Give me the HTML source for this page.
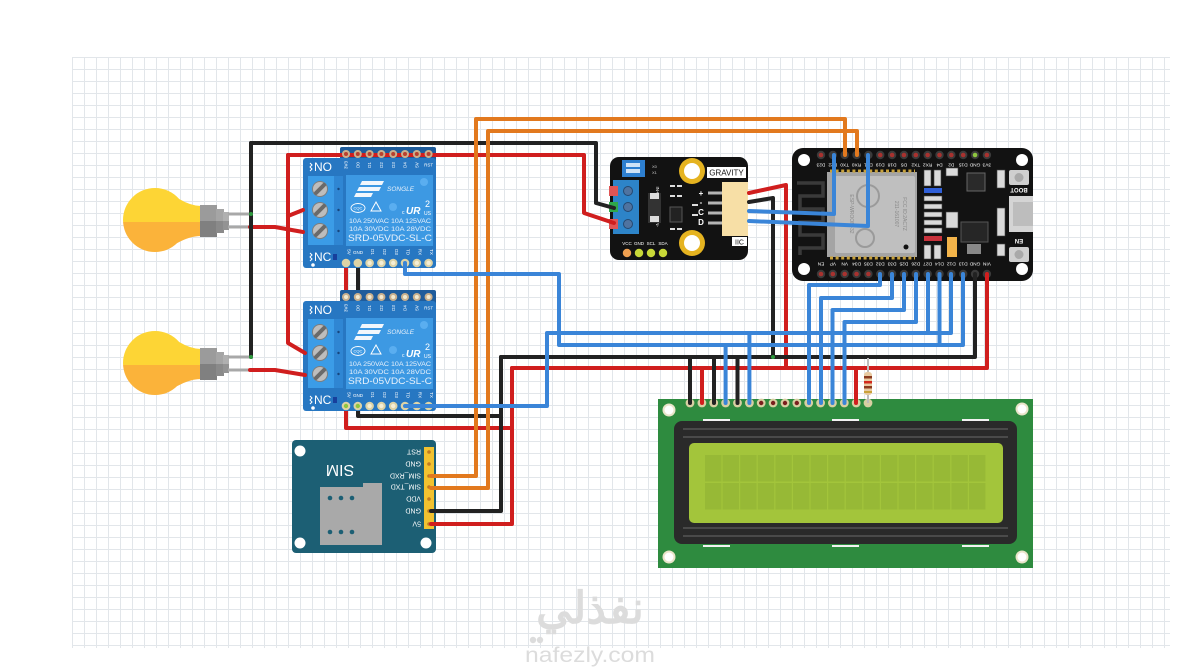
<!DOCTYPE html>
<html><head><meta charset="utf-8"><style>
html,body{margin:0;padding:0;background:#fff;}
svg{display:block;}
text{font-family:"Liberation Sans",sans-serif;}
</style></head><body>
<svg width="1179" height="668" viewBox="0 0 1179 668" xmlns="http://www.w3.org/2000/svg">
<defs>
<pattern id="grid" x="72" y="57" width="12" height="12" patternUnits="userSpaceOnUse">
<path d="M0.5 0 V12 M0 0.5 H12" stroke="#e2e6ea" stroke-width="1" fill="none"/>
</pattern>
<clipPath id="bulbclip"><circle cx="155" cy="220" r="32"/><path d="M168 191 Q186 206 201 206 L201 236 Q186 236 168 249 Z"/></clipPath>
</defs>
<rect width="1179" height="668" fill="#fff"/>
<rect x="72" y="57" width="1098" height="591" fill="url(#grid)"/>

<!-- watermark -->
<g fill="#dcdcdc">
<text x="590" y="623" text-anchor="middle" font-family="DejaVu Sans, sans-serif" font-weight="bold" font-size="44">نفذلي</text>
<circle cx="533" cy="640" r="3.2"/><circle cx="540" cy="640" r="3.2"/>
<text x="590" y="662" text-anchor="middle" font-size="21" textLength="130" lengthAdjust="spacingAndGlyphs">nafezly.com</text>
</g>

<!-- wires behind relay 2 -->
<g fill="none" stroke-width="4" stroke-linecap="round" stroke-linejoin="round">
<path d="M346 263 V428 H512 V368" stroke="#d01e1e"/>
<path d="M358 263 V416 H501 V357" stroke="#222"/>
</g>

<!-- bulbs -->
<g id="bulb1">
<g clip-path="url(#bulbclip)"><rect x="110" y="180" width="95" height="42" fill="#fdd535"/><rect x="110" y="222" width="95" height="42" fill="#fbb33a"/></g>
<rect x="200" y="205" width="17" height="16" fill="#9b9b9b"/><rect x="200" y="221" width="17" height="16" fill="#808080"/>
<rect x="216" y="209" width="8" height="12" fill="#a5a5a5"/><rect x="216" y="221" width="8" height="12" fill="#8a8a8a"/>
<rect x="223" y="212" width="6" height="9" fill="#b0b0b0"/><rect x="223" y="221" width="6" height="9" fill="#939393"/>
<line x1="228" y1="214" x2="251" y2="214" stroke="#a8a8a8" stroke-width="3"/>
<line x1="228" y1="227" x2="251" y2="227" stroke="#a8a8a8" stroke-width="3"/>
</g>
<g transform="translate(0,143)">
<g clip-path="url(#bulbclip)"><rect x="110" y="180" width="95" height="42" fill="#fdd535"/><rect x="110" y="222" width="95" height="42" fill="#fbb33a"/></g>
<rect x="200" y="205" width="17" height="16" fill="#9b9b9b"/><rect x="200" y="221" width="17" height="16" fill="#808080"/>
<rect x="216" y="209" width="8" height="12" fill="#a5a5a5"/><rect x="216" y="221" width="8" height="12" fill="#8a8a8a"/>
<rect x="223" y="212" width="6" height="9" fill="#b0b0b0"/><rect x="223" y="221" width="6" height="9" fill="#939393"/>
<line x1="228" y1="214" x2="251" y2="214" stroke="#a8a8a8" stroke-width="3"/>
<line x1="228" y1="227" x2="251" y2="227" stroke="#a8a8a8" stroke-width="3"/>
</g>

<!-- relay 1 -->
<g>
<rect x="340" y="147" width="96" height="15" rx="2" fill="#1f5c9b"/>
<rect x="303" y="158" width="133" height="110" rx="3" fill="#2777c2"/>
<rect x="308" y="176" width="26" height="69" fill="#3b9ce7"/>
<rect x="334" y="176" width="9" height="69" fill="#2f86d3"/>
<g fill="#17467d"><circle cx="338.5" cy="189" r="1.2"/><circle cx="338.5" cy="210" r="1.2"/><circle cx="338.5" cy="231" r="1.2"/></g>
<g stroke="#7d7d7d" fill="#bdbdbd"><circle cx="320" cy="189" r="7.5"/><circle cx="320" cy="210" r="7.5"/><circle cx="320" cy="231" r="7.5"/></g>
<g stroke="#6a6a6a" stroke-width="4" stroke-linecap="round"><line x1="316" y1="193" x2="324" y2="185"/><line x1="316" y1="214" x2="324" y2="206"/><line x1="316" y1="235" x2="324" y2="227"/></g>
<rect x="346" y="175" width="87" height="71" fill="#3d99e3"/>
<circle cx="424" cy="182" r="4" fill="#5aaef0"/><circle cx="393" cy="207" r="4" fill="#5aaef0"/>
<g fill="#f2f7fc"><polygon points="362,181 384,181 382,185 360,185"/><polygon points="359,187 381,187 379,191 357,191"/><polygon points="356,193 373,193 371,197 354,197"/></g>
<text x="387" y="191" font-size="6.5" font-style="italic" fill="#e8f1fb" font-family="Liberation Serif, serif">SONGLE</text>
<ellipse cx="358" cy="208" rx="7" ry="4.5" stroke="#fff" fill="none" stroke-width="0.9"/>
<text x="358" y="209.5" font-size="4" fill="#fff" text-anchor="middle">CQC</text>
<polygon points="376,202 381,211 371,211" stroke="#fff" fill="none" stroke-width="1"/>
<text x="402" y="214" font-size="5" fill="#fff">c</text>
<text x="406" y="214" font-size="10" font-weight="bold" font-style="italic" fill="#fff">UR</text>
<text x="424" y="215" font-size="5" fill="#fff">US</text>
<text x="425" y="207" font-size="9" fill="#fff">2</text>
<text x="349" y="223" font-size="6.6" fill="#e8f1fb" textLength="82" lengthAdjust="spacingAndGlyphs">10A  250VAC   10A  125VAC</text>
<text x="349" y="231" font-size="6.6" fill="#e8f1fb" textLength="82" lengthAdjust="spacingAndGlyphs">10A   30VDC   10A    28VDC</text>
<text x="348" y="241" font-size="9.5" fill="#e8f1fb" textLength="84" lengthAdjust="spacingAndGlyphs">SRD-05VDC-SL-C</text>
<path d="M310 163 l2 2 l-2 2 l2 2 l-2 2" stroke="#fff" fill="none" stroke-width="1"/>
<text x="314" y="171" font-size="12" fill="#fff">NO</text>
<path d="M310 253 l2 2 l-2 2 l2 2 l-2 2" stroke="#fff" fill="none" stroke-width="1"/>
<text x="314" y="261" font-size="12" fill="#fff">NC</text>
<rect x="333" y="254" width="4" height="6" fill="#173f9c"/>
<circle cx="313" cy="265" r="1.8" fill="#fff"/>
<g font-size="4.5" fill="#fff" text-anchor="middle">
<text transform="translate(347.6,165) rotate(-90)">3V3</text><text transform="translate(359.4,165) rotate(-90)">D0</text><text transform="translate(371.2,165) rotate(-90)">D1</text><text transform="translate(383,165) rotate(-90)">D2</text><text transform="translate(394.8,165) rotate(-90)">D3</text><text transform="translate(406.6,165) rotate(-90)">D4</text><text transform="translate(418.4,165) rotate(-90)">5V</text><text x="428.6" y="166.5">RST</text>
<text transform="translate(347.6,252) rotate(90)">5V</text><text x="358" y="254">GND</text><text transform="translate(371.2,252) rotate(90)">D1</text><text transform="translate(383,252) rotate(90)">D2</text><text transform="translate(394.8,252) rotate(90)">D3</text><text transform="translate(406.6,252) rotate(90)">TD</text><text transform="translate(418.4,252) rotate(90)">RX</text><text transform="translate(430.2,252) rotate(90)">TX</text>
</g>
<g fill="#ddd3a6"><circle cx="346" cy="263" r="4.3"/><circle cx="357.8" cy="263" r="4.3"/><circle cx="369.6" cy="263" r="4.3"/><circle cx="381.4" cy="263" r="4.3"/><circle cx="393.2" cy="263" r="4.3"/><circle cx="405" cy="263" r="4.3"/><circle cx="416.8" cy="263" r="4.3"/><circle cx="428.6" cy="263" r="4.3"/></g>
<g fill="#f5efd6"><circle cx="369.6" cy="263" r="2.2"/><circle cx="381.4" cy="263" r="2.2"/><circle cx="393.2" cy="263" r="2.2"/><circle cx="416.8" cy="263" r="2.2"/><circle cx="428.6" cy="263" r="2.2"/></g>
</g>

<!-- relay 2 -->
<g transform="translate(0,143)">
<rect x="340" y="147" width="96" height="15" rx="2" fill="#1f5c9b"/>
<rect x="303" y="158" width="133" height="110" rx="3" fill="#2777c2"/>
<rect x="308" y="176" width="26" height="69" fill="#3b9ce7"/>
<rect x="334" y="176" width="9" height="69" fill="#2f86d3"/>
<g fill="#17467d"><circle cx="338.5" cy="189" r="1.2"/><circle cx="338.5" cy="210" r="1.2"/><circle cx="338.5" cy="231" r="1.2"/></g>
<g stroke="#7d7d7d" fill="#bdbdbd"><circle cx="320" cy="189" r="7.5"/><circle cx="320" cy="210" r="7.5"/><circle cx="320" cy="231" r="7.5"/></g>
<g stroke="#6a6a6a" stroke-width="4" stroke-linecap="round"><line x1="316" y1="193" x2="324" y2="185"/><line x1="316" y1="214" x2="324" y2="206"/><line x1="316" y1="235" x2="324" y2="227"/></g>
<rect x="346" y="175" width="87" height="71" fill="#3d99e3"/>
<circle cx="424" cy="182" r="4" fill="#5aaef0"/><circle cx="393" cy="207" r="4" fill="#5aaef0"/>
<g fill="#f2f7fc"><polygon points="362,181 384,181 382,185 360,185"/><polygon points="359,187 381,187 379,191 357,191"/><polygon points="356,193 373,193 371,197 354,197"/></g>
<text x="387" y="191" font-size="6.5" font-style="italic" fill="#e8f1fb" font-family="Liberation Serif, serif">SONGLE</text>
<ellipse cx="358" cy="208" rx="7" ry="4.5" stroke="#fff" fill="none" stroke-width="0.9"/>
<text x="358" y="209.5" font-size="4" fill="#fff" text-anchor="middle">CQC</text>
<polygon points="376,202 381,211 371,211" stroke="#fff" fill="none" stroke-width="1"/>
<text x="402" y="214" font-size="5" fill="#fff">c</text>
<text x="406" y="214" font-size="10" font-weight="bold" font-style="italic" fill="#fff">UR</text>
<text x="424" y="215" font-size="5" fill="#fff">US</text>
<text x="425" y="207" font-size="9" fill="#fff">2</text>
<text x="349" y="223" font-size="6.6" fill="#e8f1fb" textLength="82" lengthAdjust="spacingAndGlyphs">10A  250VAC   10A  125VAC</text>
<text x="349" y="231" font-size="6.6" fill="#e8f1fb" textLength="82" lengthAdjust="spacingAndGlyphs">10A   30VDC   10A    28VDC</text>
<text x="348" y="241" font-size="9.5" fill="#e8f1fb" textLength="84" lengthAdjust="spacingAndGlyphs">SRD-05VDC-SL-C</text>
<path d="M310 163 l2 2 l-2 2 l2 2 l-2 2" stroke="#fff" fill="none" stroke-width="1"/>
<text x="314" y="171" font-size="12" fill="#fff">NO</text>
<path d="M310 253 l2 2 l-2 2 l2 2 l-2 2" stroke="#fff" fill="none" stroke-width="1"/>
<text x="314" y="261" font-size="12" fill="#fff">NC</text>
<rect x="333" y="254" width="4" height="6" fill="#173f9c"/>
<circle cx="313" cy="265" r="1.8" fill="#fff"/>
<g font-size="4.5" fill="#fff" text-anchor="middle">
<text transform="translate(347.6,165) rotate(-90)">3V3</text><text transform="translate(359.4,165) rotate(-90)">D0</text><text transform="translate(371.2,165) rotate(-90)">D1</text><text transform="translate(383,165) rotate(-90)">D2</text><text transform="translate(394.8,165) rotate(-90)">D3</text><text transform="translate(406.6,165) rotate(-90)">D4</text><text transform="translate(418.4,165) rotate(-90)">5V</text><text x="428.6" y="166.5">RST</text>
<text transform="translate(347.6,252) rotate(90)">5V</text><text x="358" y="254">GND</text><text transform="translate(371.2,252) rotate(90)">D1</text><text transform="translate(383,252) rotate(90)">D2</text><text transform="translate(394.8,252) rotate(90)">D3</text><text transform="translate(406.6,252) rotate(90)">TD</text><text transform="translate(418.4,252) rotate(90)">RX</text><text transform="translate(430.2,252) rotate(90)">TX</text>
</g>
<g fill="#c9b08e"><circle cx="346" cy="154" r="4"/><circle cx="357.8" cy="154" r="4"/><circle cx="369.6" cy="154" r="4"/><circle cx="381.4" cy="154" r="4"/><circle cx="393.2" cy="154" r="4"/><circle cx="405" cy="154" r="4"/><circle cx="416.8" cy="154" r="4"/><circle cx="428.6" cy="154" r="4"/></g>
<g fill="#f2ead0"><circle cx="346" cy="154" r="2"/><circle cx="357.8" cy="154" r="2"/><circle cx="369.6" cy="154" r="2"/><circle cx="381.4" cy="154" r="2"/><circle cx="393.2" cy="154" r="2"/><circle cx="405" cy="154" r="2"/><circle cx="416.8" cy="154" r="2"/><circle cx="428.6" cy="154" r="2"/></g>
<g fill="#ddd3a6"><circle cx="346" cy="263" r="4.3"/><circle cx="357.8" cy="263" r="4.3"/><circle cx="369.6" cy="263" r="4.3"/><circle cx="381.4" cy="263" r="4.3"/><circle cx="393.2" cy="263" r="4.3"/><circle cx="405" cy="263" r="4.3"/><circle cx="416.8" cy="263" r="4.3"/><circle cx="428.6" cy="263" r="4.3"/></g>
<g fill="#f5efd6"><circle cx="369.6" cy="263" r="2.2"/><circle cx="381.4" cy="263" r="2.2"/><circle cx="393.2" cy="263" r="2.2"/><circle cx="416.8" cy="263" r="2.2"/><circle cx="428.6" cy="263" r="2.2"/></g>
<g fill="#8ec63f"><circle cx="346" cy="263" r="2.2"/><circle cx="357.8" cy="263" r="2.2"/></g>
</g>

<!-- gravity module -->
<g>
<rect x="610" y="157" width="138" height="103" rx="9" fill="#121212"/>
<circle cx="692" cy="171" r="13" fill="#e5b320"/><circle cx="692" cy="171" r="8" fill="#fff"/>
<circle cx="692" cy="243" r="13" fill="#e5b320"/><circle cx="692" cy="243" r="8" fill="#fff"/>
<rect x="707" y="167" width="39" height="11" fill="#fff"/>
<text x="726.5" y="175.5" font-size="8" font-family="Liberation Mono, monospace" text-anchor="middle" fill="#111">GRAVITY</text>
<rect x="722" y="182" width="26" height="54" fill="#f7dfa6"/>
<g fill="#b5b5b5"><rect x="708" y="191.5" width="14" height="3"/><rect x="708" y="201.5" width="14" height="3"/><rect x="708" y="211.5" width="14" height="3"/><rect x="708" y="221.5" width="14" height="3"/></g>
<g fill="#fff" font-size="8" font-weight="bold" text-anchor="middle"><text x="701" y="196">+</text><text x="701" y="205">-</text><text x="701" y="215">C</text><text x="701" y="225">D</text></g>
<rect x="732" y="237" width="15" height="9" fill="#fff"/>
<text x="739.5" y="244.5" font-size="7" font-family="Liberation Mono, monospace" text-anchor="middle" fill="#111">IIC</text>
<rect x="613" y="180" width="26" height="54" fill="#2d84c8"/>
<rect x="609" y="186" width="9" height="10" fill="#e05555"/>
<rect x="609" y="202" width="9" height="10" fill="#2ea84a"/>
<rect x="609" y="219" width="9" height="10" fill="#e05555"/>
<g fill="#4f73a0" stroke="#26486f"><circle cx="628" cy="191" r="4.5"/><circle cx="628" cy="207" r="4.5"/><circle cx="628" cy="224" r="4.5"/></g>
<rect x="622" y="160" width="23" height="17" fill="#2d7fd0"/>
<rect x="626" y="163" width="14" height="4" fill="#cfe3f7"/><rect x="626" y="169" width="14" height="4" fill="#cfe3f7"/>
<g fill="#ccc" font-size="4"><text x="652" y="168">X0</text><text x="652" y="174">X1</text></g>
<g fill="#fff" font-size="4.5" text-anchor="middle"><text transform="translate(656,190) rotate(90)">IN+</text><text transform="translate(656,207) rotate(90)">OUT</text><text transform="translate(656,224) rotate(90)">IN-</text></g>
<rect x="648" y="193" width="13" height="30" fill="#333"/>
<rect x="650" y="193" width="9" height="6" fill="#ddd"/><rect x="650" y="216" width="9" height="6" fill="#ddd"/>
<rect x="670" y="207" width="12" height="15" fill="#222" stroke="#555"/>
<g fill="#ddd"><rect x="670" y="185" width="5" height="2"/><rect x="677" y="185" width="5" height="2"/><rect x="670" y="195" width="5" height="2"/><rect x="677" y="195" width="5" height="2"/><rect x="670" y="228" width="5" height="2"/><rect x="677" y="228" width="5" height="2"/><rect x="692" y="204" width="6" height="2"/><rect x="692" y="214" width="6" height="2"/></g>
<g fill="#fff" font-size="4.5" text-anchor="middle"><text x="627" y="245">VCC</text><text x="639" y="245">GND</text><text x="651" y="245">SCL</text><text x="663" y="245">SDA</text></g>
<circle cx="627" cy="253" r="4.2" fill="#f0a050"/><circle cx="639" cy="253" r="4.2" fill="#c8d838"/><circle cx="651" cy="253" r="4.2" fill="#c8d838"/><circle cx="663" cy="253" r="4.2" fill="#c8d838"/>
</g>

<!-- ESP32 -->
<g>
<rect x="792" y="148" width="241" height="133" rx="11" fill="#121212"/>
<g fill="#fff"><circle cx="804" cy="160" r="6"/><circle cx="804" cy="269" r="6"/><circle cx="1022" cy="160" r="6"/><circle cx="1022" cy="269" r="6"/></g>
<path d="M797 183 H823 V196 H800 V209 H823 V222 H800 V235 H823 V248 H800 V255" stroke="#3a3a3a" stroke-width="3.5" fill="none"/>
<rect x="827" y="172" width="90" height="85" fill="#a4a4a4"/>
<rect x="835" y="176" width="80" height="77" rx="2" fill="#bfbfbf"/>
<line x1="830" y1="171" x2="915" y2="171" stroke="#c9a23a" stroke-width="3" stroke-dasharray="3 2.6"/>
<line x1="830" y1="258" x2="915" y2="258" stroke="#c9a23a" stroke-width="3" stroke-dasharray="3 2.6"/>
<g fill="#8a8a8a" font-size="5" text-anchor="middle">
<text transform="translate(850,214) rotate(90)">ESP-WROOM-32</text>
<text transform="translate(895,214) rotate(90)">211-161007</text>
<text transform="translate(903,214) rotate(90)">FCC ID:2AC7Z</text>
</g>
<circle cx="868" cy="196" r="11" fill="none" stroke="#9a9a9a" stroke-width="2"/>
<circle cx="865" cy="238" r="9" fill="none" stroke="#9a9a9a" stroke-width="2"/>
<circle cx="906" cy="247" r="2.5" fill="#111"/>
<g fill="#dadada" stroke="#444" stroke-width="0.6">
<rect x="924" y="170" width="7" height="16"/><rect x="934" y="170" width="7" height="16"/>
<rect x="924" y="196" width="18" height="5"/><rect x="924" y="204" width="18" height="5"/><rect x="924" y="212" width="18" height="5"/><rect x="924" y="220" width="18" height="5"/><rect x="924" y="228" width="18" height="5"/>
<rect x="924" y="245" width="7" height="14"/><rect x="934" y="245" width="7" height="14"/>
<rect x="946" y="168" width="12" height="8"/><rect x="946" y="212" width="12" height="16"/>
<rect x="997" y="170" width="8" height="18"/><rect x="997" y="208" width="8" height="28"/><rect x="997" y="244" width="8" height="12"/>
</g>
<rect x="924" y="188" width="18" height="5" fill="#2f5fd8"/>
<rect x="924" y="236" width="18" height="5" fill="#c8323c"/>
<rect x="967" y="173" width="18" height="18" fill="#2a2a2a" stroke="#666"/>
<rect x="947" y="237" width="10" height="20" fill="#f3b44a"/>
<rect x="961" y="222" width="27" height="20" fill="#262626" stroke="#555"/>
<rect x="967" y="244" width="14" height="10" fill="#888"/>
<rect x="1009" y="170" width="20" height="15" rx="2" fill="#cfcfcf"/><circle cx="1019" cy="177.5" r="4.5" fill="#a9a9a9"/>
<rect x="1009" y="196" width="24" height="36" fill="#d4d4d4"/><rect x="1013" y="202" width="20" height="24" fill="#bdbdbd"/>
<rect x="1009" y="247" width="20" height="15" rx="2" fill="#cfcfcf"/><circle cx="1019" cy="254.5" r="4.5" fill="#a9a9a9"/>
<g fill="#fff" font-size="6" font-weight="bold" text-anchor="middle">
<text transform="translate(1019,190) rotate(180)" y="2.2">BOOT</text>
<text transform="translate(1019,241) rotate(180)" y="2.2">EN</text>
</g>
<g fill="#3a3a3a">
<circle cx="821" cy="155" r="4.2"/><circle cx="832.85" cy="155" r="4.2"/><circle cx="844.7" cy="155" r="4.2"/><circle cx="856.55" cy="155" r="4.2"/><circle cx="868.4" cy="155" r="4.2"/><circle cx="880.25" cy="155" r="4.2"/><circle cx="892.1" cy="155" r="4.2"/><circle cx="903.95" cy="155" r="4.2"/><circle cx="915.8" cy="155" r="4.2"/><circle cx="927.65" cy="155" r="4.2"/><circle cx="939.5" cy="155" r="4.2"/><circle cx="951.35" cy="155" r="4.2"/><circle cx="963.2" cy="155" r="4.2"/><circle cx="975.05" cy="155" r="4.2"/><circle cx="986.9" cy="155" r="4.2"/>
<circle cx="821" cy="274" r="4.2"/><circle cx="832.85" cy="274" r="4.2"/><circle cx="844.7" cy="274" r="4.2"/><circle cx="856.55" cy="274" r="4.2"/><circle cx="868.4" cy="274" r="4.2"/><circle cx="880.25" cy="274" r="4.2"/><circle cx="892.1" cy="274" r="4.2"/><circle cx="903.95" cy="274" r="4.2"/><circle cx="915.8" cy="274" r="4.2"/><circle cx="927.65" cy="274" r="4.2"/><circle cx="939.5" cy="274" r="4.2"/><circle cx="951.35" cy="274" r="4.2"/><circle cx="963.2" cy="274" r="4.2"/><circle cx="975.05" cy="274" r="4.2"/><circle cx="986.9" cy="274" r="4.2"/>
</g>
<g fill="#a8322f">
<circle cx="821" cy="155" r="2.3"/><circle cx="880.25" cy="155" r="2.3"/><circle cx="892.1" cy="155" r="2.3"/><circle cx="903.95" cy="155" r="2.3"/><circle cx="915.8" cy="155" r="2.3"/><circle cx="927.65" cy="155" r="2.3"/><circle cx="939.5" cy="155" r="2.3"/><circle cx="951.35" cy="155" r="2.3"/><circle cx="963.2" cy="155" r="2.3"/><circle cx="986.9" cy="155" r="2.3"/>
<circle cx="821" cy="274" r="2.3"/><circle cx="832.85" cy="274" r="2.3"/><circle cx="844.7" cy="274" r="2.3"/><circle cx="856.55" cy="274" r="2.3"/><circle cx="868.4" cy="274" r="2.3"/>
</g>
<circle cx="975.05" cy="155" r="2.3" fill="#8ec63f"/>
<g fill="#fff" font-size="4.8" text-anchor="middle">
<text transform="translate(821,165) rotate(180)" y="1.7">D23</text><text transform="translate(832.85,165) rotate(180)" y="1.7">D22</text><text transform="translate(844.7,165) rotate(180)" y="1.7">TX0</text><text transform="translate(856.55,165) rotate(180)" y="1.7">RX0</text><text transform="translate(868.4,165) rotate(180)" y="1.7">D21</text><text transform="translate(880.25,165) rotate(180)" y="1.7">D19</text><text transform="translate(892.1,165) rotate(180)" y="1.7">D18</text><text transform="translate(903.95,165) rotate(180)" y="1.7">D5</text><text transform="translate(915.8,165) rotate(180)" y="1.7">TX2</text><text transform="translate(927.65,165) rotate(180)" y="1.7">RX2</text><text transform="translate(939.5,165) rotate(180)" y="1.7">D4</text><text transform="translate(951.35,165) rotate(180)" y="1.7">D2</text><text transform="translate(963.2,165) rotate(180)" y="1.7">D15</text><text transform="translate(975.05,165) rotate(180)" y="1.7">GND</text><text transform="translate(986.9,165) rotate(180)" y="1.7">3V3</text>
<text transform="translate(821,264) rotate(180)" y="1.7">EN</text><text transform="translate(832.85,264) rotate(180)" y="1.7">VP</text><text transform="translate(844.7,264) rotate(180)" y="1.7">VN</text><text transform="translate(856.55,264) rotate(180)" y="1.7">D34</text><text transform="translate(868.4,264) rotate(180)" y="1.7">D35</text><text transform="translate(880.25,264) rotate(180)" y="1.7">D32</text><text transform="translate(892.1,264) rotate(180)" y="1.7">D33</text><text transform="translate(903.95,264) rotate(180)" y="1.7">D25</text><text transform="translate(915.8,264) rotate(180)" y="1.7">D26</text><text transform="translate(927.65,264) rotate(180)" y="1.7">D27</text><text transform="translate(939.5,264) rotate(180)" y="1.7">D14</text><text transform="translate(951.35,264) rotate(180)" y="1.7">D12</text><text transform="translate(963.2,264) rotate(180)" y="1.7">D13</text><text transform="translate(975.05,264) rotate(180)" y="1.7">GND</text><text transform="translate(986.9,264) rotate(180)" y="1.7">VIN</text>
</g>
</g>

<!-- LCD -->
<g>
<rect x="658" y="399" width="375" height="169" fill="#2e8b3f"/>
<g fill="#e9e4c9"><circle cx="669" cy="410" r="6.5"/><circle cx="1022" cy="409" r="6.5"/><circle cx="669" cy="557" r="6.5"/><circle cx="1022" cy="557" r="6.5"/></g>
<g fill="#fff"><circle cx="669" cy="410" r="4.5"/><circle cx="1022" cy="409" r="4.5"/><circle cx="669" cy="557" r="4.5"/><circle cx="1022" cy="557" r="4.5"/></g>
<g fill="#f2f2f2"><rect x="703" y="419" width="27" height="2"/><rect x="832" y="419" width="27" height="2"/><rect x="962" y="419" width="27" height="2"/><rect x="703" y="545" width="27" height="2"/><rect x="832" y="545" width="27" height="2"/><rect x="962" y="545" width="27" height="2"/></g>
<rect x="674" y="421" width="343" height="123" rx="8" fill="#2a2a2a"/>
<g fill="#4a4a4a"><rect x="683" y="428" width="325" height="2"/><rect x="683" y="436" width="325" height="2"/><rect x="683" y="527" width="325" height="2"/><rect x="683" y="535" width="325" height="2"/></g>
<rect x="689" y="443" width="314" height="80" rx="5" fill="#a3c53b"/>
<g fill="#97b936">
<rect x="705.0" y="455" width="16.4" height="26.5"/><rect x="722.6" y="455" width="16.4" height="26.5"/><rect x="740.2" y="455" width="16.4" height="26.5"/><rect x="757.8" y="455" width="16.4" height="26.5"/><rect x="775.4" y="455" width="16.4" height="26.5"/><rect x="793.0" y="455" width="16.4" height="26.5"/><rect x="810.6" y="455" width="16.4" height="26.5"/><rect x="828.2" y="455" width="16.4" height="26.5"/><rect x="845.8" y="455" width="16.4" height="26.5"/><rect x="863.4" y="455" width="16.4" height="26.5"/><rect x="881.0" y="455" width="16.4" height="26.5"/><rect x="898.6" y="455" width="16.4" height="26.5"/><rect x="916.2" y="455" width="16.4" height="26.5"/><rect x="933.8" y="455" width="16.4" height="26.5"/><rect x="951.4" y="455" width="16.4" height="26.5"/><rect x="969.0" y="455" width="16.4" height="26.5"/>
<rect x="705.0" y="483" width="16.4" height="26.5"/><rect x="722.6" y="483" width="16.4" height="26.5"/><rect x="740.2" y="483" width="16.4" height="26.5"/><rect x="757.8" y="483" width="16.4" height="26.5"/><rect x="775.4" y="483" width="16.4" height="26.5"/><rect x="793.0" y="483" width="16.4" height="26.5"/><rect x="810.6" y="483" width="16.4" height="26.5"/><rect x="828.2" y="483" width="16.4" height="26.5"/><rect x="845.8" y="483" width="16.4" height="26.5"/><rect x="863.4" y="483" width="16.4" height="26.5"/><rect x="881.0" y="483" width="16.4" height="26.5"/><rect x="898.6" y="483" width="16.4" height="26.5"/><rect x="916.2" y="483" width="16.4" height="26.5"/><rect x="933.8" y="483" width="16.4" height="26.5"/><rect x="951.4" y="483" width="16.4" height="26.5"/><rect x="969.0" y="483" width="16.4" height="26.5"/>
</g>
<g fill="#d8cfa2">
<circle cx="690" cy="403" r="4.4"/><circle cx="701.9" cy="403" r="4.4"/><circle cx="713.7" cy="403" r="4.4"/><circle cx="725.6" cy="403" r="4.4"/><circle cx="737.5" cy="403" r="4.4"/><circle cx="749.4" cy="403" r="4.4"/><circle cx="761.2" cy="403" r="4.4"/><circle cx="773.1" cy="403" r="4.4"/><circle cx="785" cy="403" r="4.4"/><circle cx="796.8" cy="403" r="4.4"/><circle cx="808.7" cy="403" r="4.4"/><circle cx="820.6" cy="403" r="4.4"/><circle cx="832.4" cy="403" r="4.4"/><circle cx="844.3" cy="403" r="4.4"/><circle cx="856.2" cy="403" r="4.4"/><circle cx="868" cy="403" r="4.4"/>
</g>
<g fill="#7a1f1f"><circle cx="761.2" cy="403" r="2.2"/><circle cx="773.1" cy="403" r="2.2"/><circle cx="785" cy="403" r="2.2"/><circle cx="796.8" cy="403" r="2.2"/></g>
</g>

<!-- SIM module -->
<g>
<rect x="292" y="440" width="144" height="113" rx="4" fill="#1c5f74"/>
<g fill="#fff"><circle cx="300" cy="451" r="5.5"/><circle cx="300" cy="543" r="5.5"/><circle cx="426" cy="543" r="5.5"/></g>
<text transform="translate(340,471) rotate(180)" y="5.8" font-size="16" text-anchor="middle" fill="#fff">SIM</text>
<path d="M320 487 H363 V483 H382 V545 H320 Z" fill="#a9a9a9"/>
<g fill="#1c5f74"><circle cx="330" cy="498" r="2.3"/><circle cx="341" cy="498" r="2.3"/><circle cx="352" cy="498" r="2.3"/><circle cx="330" cy="532" r="2.3"/><circle cx="341" cy="532" r="2.3"/><circle cx="352" cy="532" r="2.3"/></g>
<rect x="424" y="447" width="10" height="82" fill="#f2c230"/>
<g fill="#c07a20"><circle cx="429" cy="452" r="1.8"/><circle cx="429" cy="464" r="1.8"/><circle cx="429" cy="476" r="1.8"/><circle cx="429" cy="487" r="1.8"/><circle cx="429" cy="499" r="1.8"/><circle cx="429" cy="511" r="1.8"/><circle cx="429" cy="524" r="1.8"/></g>
<g fill="#fff" font-size="7">
<text transform="translate(421,452) rotate(180)" y="2.5">RST</text>
<text transform="translate(421,464) rotate(180)" y="2.5">GND</text>
<text transform="translate(421,476) rotate(180)" y="2.5">SIM_RXD</text>
<text transform="translate(421,487) rotate(180)" y="2.5">SIM_TXD</text>
<text transform="translate(421,499) rotate(180)" y="2.5">VDD</text>
<text transform="translate(421,511) rotate(180)" y="2.5">GND</text>
<text transform="translate(421,524) rotate(180)" y="2.5">5V</text>
</g>
</g>

<!-- wires -->
<g fill="none" stroke-width="4" stroke-linecap="round" stroke-linejoin="round">
<!-- red -->
<path d="M288 155 H584 V213 L614 223" stroke="#d01e1e"/>
<path d="M288 155 V343 L305 353" stroke="#d01e1e"/>
<path d="M288 216 L303 210" stroke="#d01e1e"/>
<path d="M250 227 H275 L303 232" stroke="#d01e1e"/>
<path d="M250 370 H275 L305 375" stroke="#d01e1e"/>
<path d="M512 368 H987 V274" stroke="#d01e1e"/>
<path d="M512 428 V524 H431" stroke="#d01e1e"/>
<path d="M749 193 L786 185 V368" stroke="#d01e1e"/>
<path d="M702 368 V403" stroke="#d01e1e"/>
<path d="M856 368 V403" stroke="#d01e1e"/>
<!-- black -->
<path d="M251 143 H596 V203 L614 208" stroke="#222"/>
<path d="M251 143 V357" stroke="#222"/>
<path d="M501 357 H975 V274" stroke="#222"/>
<path d="M501 416 V511 H431" stroke="#222"/>
<path d="M749 202 L773 198 V357" stroke="#222"/>
<path d="M690 357 V403" stroke="#222"/>
<path d="M714 357 V403" stroke="#222"/>
<path d="M737.5 357 V403" stroke="#222"/>
<!-- orange -->
<path d="M431 476 H476 V119 H845 V155" stroke="#e2791e"/>
<path d="M431 488 H488 V131 H857 V155" stroke="#e2791e"/>
<!-- blue -->
<path d="M405 263 V274 H559 V345 H963 V274" stroke="#3a85d8"/>
<path d="M405 406 H547 V333 H951 V274" stroke="#3a85d8"/>
<path d="M880 274 V285 H809 V403" stroke="#3a85d8"/>
<path d="M892 274 V298 H821 V403" stroke="#3a85d8"/>
<path d="M904 274 V310 H832.5 V403" stroke="#3a85d8"/>
<path d="M916 274 V322 H844.5 V403" stroke="#3a85d8"/>
<path d="M928 274 V333" stroke="#3a85d8"/>
<path d="M939.5 274 V345" stroke="#3a85d8"/>
<path d="M725.6 345 V403" stroke="#3a85d8"/>
<path d="M749.4 333 V403" stroke="#3a85d8"/>
<path d="M749 211 L834 214 V155" stroke="#3a85d8"/>
<path d="M749 221 L868 226 V155" stroke="#3a85d8"/>
</g>

<!-- resistor -->
<line x1="868" y1="358" x2="868" y2="403" stroke="#bdbdbd" stroke-width="2"/>
<rect x="864" y="372" width="8" height="23" rx="3" fill="#e8c9a0"/>
<rect x="864" y="376" width="8" height="2.5" fill="#8b3a1e"/>
<rect x="864" y="381" width="8" height="2.5" fill="#d22a1e"/>
<rect x="864" y="386" width="8" height="2.5" fill="#8b3a1e"/>
<rect x="864" y="391" width="8" height="2" fill="#c9a23a"/>

<!-- relay 1 top pins over wire -->
<g fill="#c9b08e"><circle cx="346" cy="154" r="4"/><circle cx="357.8" cy="154" r="4"/><circle cx="369.6" cy="154" r="4"/><circle cx="381.4" cy="154" r="4"/><circle cx="393.2" cy="154" r="4"/><circle cx="405" cy="154" r="4"/><circle cx="416.8" cy="154" r="4"/><circle cx="428.6" cy="154" r="4"/></g>
<g fill="#b8402e"><circle cx="346" cy="154" r="2"/><circle cx="357.8" cy="154" r="2"/><circle cx="369.6" cy="154" r="2"/><circle cx="381.4" cy="154" r="2"/><circle cx="393.2" cy="154" r="2"/><circle cx="405" cy="154" r="2"/><circle cx="416.8" cy="154" r="2"/><circle cx="428.6" cy="154" r="2"/></g>

<!-- junction dots -->
<g fill="#2e9a3e"><circle cx="251" cy="214" r="2"/><circle cx="251" cy="357" r="2"/><circle cx="773" cy="357" r="2"/></g>
</svg>
</body></html>
